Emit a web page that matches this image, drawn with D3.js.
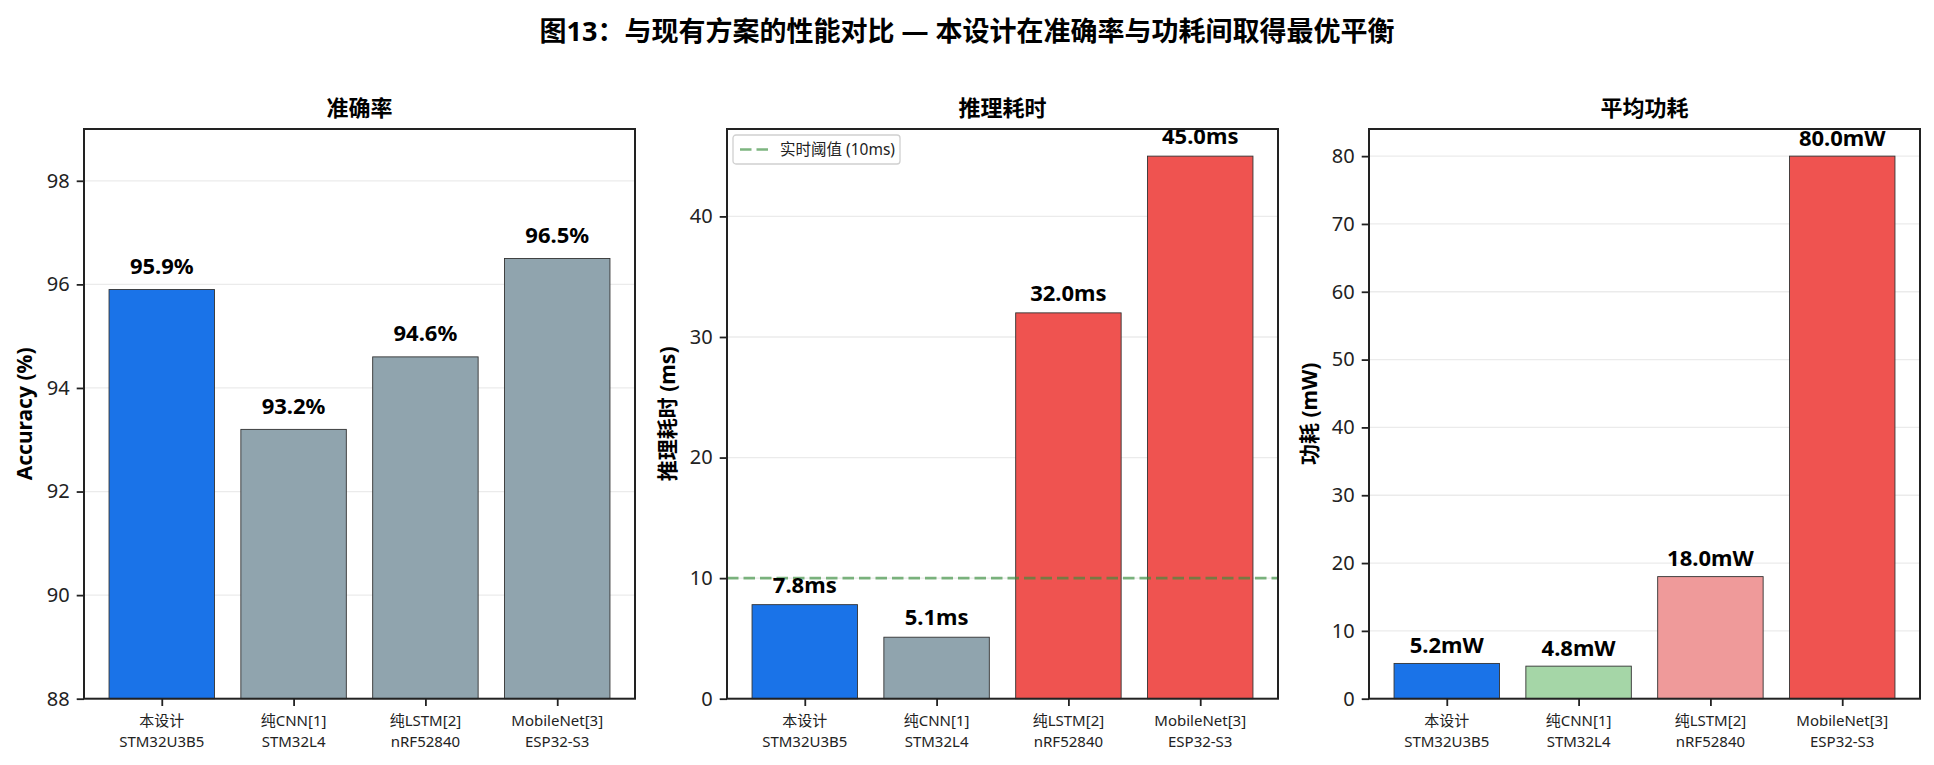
<!DOCTYPE html>
<html>
<head>
<meta charset="utf-8">
<script src="https://cdn.jsdelivr.net/npm/d3@7"></script>
<style>
    body { margin: 0; background: #fff; }
    svg, svg text { font-family: "Noto Sans", "Noto Sans CJK SC", sans-serif; }
</style>
</head>
<body>
<div class="container"></div>
<script>
const WIDTH = 1934;
const HEIGHT = 765;
const TOP = 129;
const BOTTOM = 698.7;
const PANEL_W = 551;
const PANEL_LEFT = [84, 727, 1369];

// data
var names = ['本设计', '纯CNN[1]', '纯LSTM[2]', 'MobileNet[3]'];
var chips = ['STM32U3B5', 'STM32L4', 'nRF52840', 'ESP32-S3'];
var accuracy = [95.9, 93.2, 94.6, 96.5];
var latency = [7.8, 5.1, 32.0, 45.0];
var power = [5.2, 4.8, 18.0, 80.0];
var accTicks = [88, 90, 92, 94, 96, 98];
var latTicks = [0, 10, 20, 30, 40];
var powTicks = [0, 10, 20, 30, 40, 50, 60, 70, 80];
var threshold = 10;

var BLUE = '#1a73e8', GRAY = '#90a4ae', RED = '#ef5350', PINK = '#ef9a9a', GREEN = '#a5d6a7';
var LINE_GREEN = '#388e3c';

var panels = [
    {title: '准确率', ylabel: 'Accuracy (%)', values: accuracy, domain: [88, 99], ticks: accTicks, pad: 0.3,
        fmt: function (v) { return v.toFixed(1) + '%'; }, colors: [BLUE, GRAY, GRAY, GRAY]},
    {title: '推理耗时', ylabel: '推理耗时 (ms)', values: latency, domain: [0, 47.25], ticks: latTicks, pad: 1.0,
        fmt: function (v) { return v.toFixed(1) + 'ms'; }, colors: [BLUE, GRAY, RED, RED], line: threshold},
    {title: '平均功耗', ylabel: '功耗 (mW)', values: power, domain: [0, 84], ticks: powTicks, pad: 1.5,
        fmt: function (v) { return v.toFixed(1) + 'mW'; }, colors: [BLUE, GREEN, PINK, RED]}
];

var _svg;

var createSvg = function () {
    _svg = d3.select('.container').append('svg').attr('width', WIDTH).attr('height', HEIGHT);
    _svg.append('text')
        .attr('x', WIDTH / 2).attr('y', 41)
        .attr('text-anchor', 'middle')
        .attr('font-size', 27).attr('font-weight', 'bold')
        .text('图13：与现有方案的性能对比 — 本设计在准确率与功耗间取得最优平衡');
};

var drawPanel = function (p, k) {
    var h = BOTTOM - TOP;
    var x = d3.scaleLinear().domain([-0.59, 3.59]).range([0, PANEL_W]);
    var y = d3.scaleLinear().domain(p.domain).range([h, 0]);
    var g = _svg.append('g').attr('transform', 'translate(' + PANEL_LEFT[k] + ',' + TOP + ')');

    // grid
    g.selectAll('.grid').data(p.ticks).enter().append('line')
        .attr('x1', 0).attr('x2', PANEL_W)
        .attr('y1', function (d) { return y(d); })
        .attr('y2', function (d) { return y(d); })
        .attr('stroke', '#ebebeb').attr('stroke-width', 1.3);

    g.selectAll('.bar').data(p.values).enter().append('rect')
        .attr('x', function (d, i) { return x(i - 0.4); })
        .attr('width', x(0.8) - x(0))
        .attr('y', function (d) { return y(d); })
        .attr('height', function (d) { return h - y(d); })
        .attr('fill', function (d, i) { return p.colors[i]; })
        .attr('stroke', '#333').attr('stroke-width', 0.9);

    if (p.line !== undefined) {
        g.append('line')
            .attr('x1', 0).attr('x2', PANEL_W)
            .attr('y1', y(p.line)).attr('y2', y(p.line))
            .attr('stroke', LINE_GREEN).attr('stroke-opacity', 0.65)
            .attr('stroke-width', 2.7).attr('stroke-dasharray', '11.5,5');

        var lg = g.append('g').attr('transform', 'translate(6,6)');
        lg.append('rect').attr('width', 167).attr('height', 29).attr('rx', 3)
            .attr('fill', '#fff').attr('fill-opacity', 0.8)
            .attr('stroke', '#d0d0d0').attr('stroke-width', 1.3);
        lg.append('line').attr('x1', 7).attr('x2', 35.3).attr('y1', 14.5).attr('y2', 14.5)
            .attr('stroke', LINE_GREEN).attr('stroke-opacity', 0.65)
            .attr('stroke-width', 2.7).attr('stroke-dasharray', '11.5,5');
        lg.append('text').attr('x', 47).attr('y', 20)
            .attr('font-size', 15.5).attr('fill', '#222').text('实时阈值 (10ms)');
    }

    g.selectAll('.lbl').data(p.values).enter().append('text')
        .attr('x', function (d, i) { return x(i); })
        .attr('y', function (d) { return y(d + p.pad); })
        .attr('text-anchor', 'middle')
        .attr('font-size', 22).attr('font-weight', 'bold')
        .text(function (d) { return p.fmt(d); });

    // axes
    var yAxis = d3.axisLeft(y).tickValues(p.ticks).tickSize(7.3).tickPadding(7);
    var ya = g.append('g').call(yAxis);
    ya.select('.domain').remove();
    ya.selectAll('text').attr('font-size', 20).attr('fill', '#222')
        .attr('font-family', '"Noto Sans", "Noto Sans CJK SC", sans-serif');
    ya.selectAll('line').attr('stroke', '#222').attr('stroke-width', 1.8);

    var xAxis = d3.axisBottom(x).tickValues([0, 1, 2, 3]).tickSize(7.3).tickFormat('');
    var xa = g.append('g').attr('transform', 'translate(0,' + h + ')').call(xAxis);
    xa.select('.domain').remove();
    xa.selectAll('line').attr('stroke', '#222').attr('stroke-width', 1.8);

    // two-line category labels, one text per line
    g.selectAll('.cat').data(names).enter().append('text')
        .attr('x', function (d, i) { return x(i); })
        .attr('y', h + 27)
        .attr('text-anchor', 'middle').attr('font-size', 15).attr('fill', '#222')
        .text(function (d) { return d; });
    g.selectAll('.chip').data(chips).enter().append('text')
        .attr('x', function (d, i) { return x(i); })
        .attr('y', h + 48)
        .attr('text-anchor', 'middle').attr('font-size', 15).attr('fill', '#222')
        .text(function (d) { return d; });

    g.append('rect').attr('width', PANEL_W).attr('height', h)
        .attr('fill', 'none').attr('stroke', '#222').attr('stroke-width', 2);

    g.append('text').attr('x', PANEL_W / 2).attr('y', -13)
        .attr('text-anchor', 'middle').attr('font-size', 22).attr('font-weight', 'bold')
        .text(p.title);

    g.append('text')
        .attr('transform', 'translate(-52,' + (h / 2) + ') rotate(-90)')
        .attr('text-anchor', 'middle').attr('font-size', 21).attr('font-weight', 'bold')
        .text(p.ylabel);
};

window.onload = function () {
    createSvg();
    panels.forEach(drawPanel);
};
</script>
</body>
</html>
